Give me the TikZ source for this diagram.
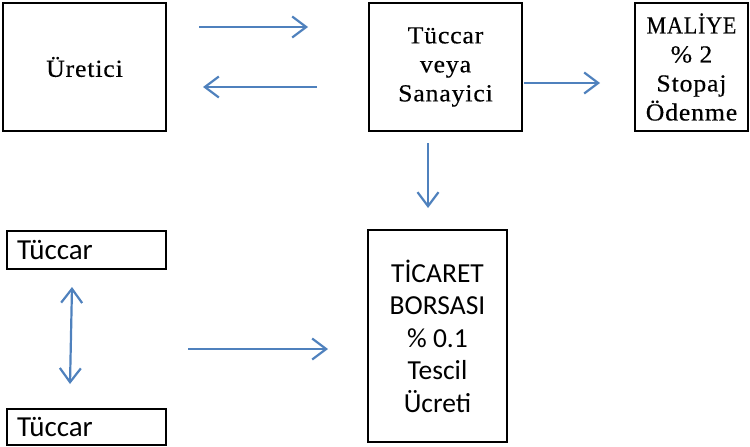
\documentclass[tikz,border=0pt]{standalone}
\usepackage{fontspec}
\usepackage{graphicx}
\setmainfont{Liberation Serif}[FakeStretch=1.05,LetterSpace=3.5,FakeBold=0.4]
\newfontfamily\calib{Carlito}
\usetikzlibrary{arrows.meta}
\definecolor{arrowblue}{HTML}{4F81BD}
\begin{document}
\begin{tikzpicture}[x=1pt,y=-1pt,
  box/.style={draw=black, line width=2.5pt, align=center, inner sep=0pt,
    font=\fontsize{24.5}{29}\selectfont},
  cbox/.style={draw=black, line width=2.5pt, align=center, inner sep=0pt,
    font=\calib\fontsize{27.5}{32.5}\selectfont},
  smallbox/.style={draw=black, line width=2pt, align=left, inner xsep=10pt,
    inner ysep=0pt, text width=139pt, minimum width=159pt,
    font=\calib\fontsize{29}{32}\selectfont},
  tip/.tip={Straight Barb[length=14pt,width=21pt]},
  flow/.style={draw=arrowblue, line width=2.2pt, -tip},
  flow2/.style={draw=arrowblue, line width=2.2pt, tip-tip}]
\useasboundingbox (0,0) rectangle (750,447);
\node[box, minimum width=163pt, minimum height=128pt] (uret) at (84.5,67) {Üretici};
\node[box, minimum width=153pt, minimum height=128pt] (tuc) at (445.5,67) {Tüccar\\veya\\Sanayici};
\node[box, minimum width=113pt, minimum height=128pt] (mal) at (691.5,67) {\scalebox{0.86}[1]{MALİYE}\\\% 2\\Stopaj\\Ödenme};
\node[cbox, minimum width=139pt, minimum height=212pt] (bor) at (437.5,336) {TİCARET\\BORSASI\\\% 0.1\\Tescil\\Ücreti};
\node[smallbox, minimum height=38pt] (t1) at (86.5,250) {Tüccar};
\node[smallbox, minimum height=36pt] (t2) at (86.5,427) {Tüccar};
\coordinate (a1s) at (199,27); \coordinate (a1e) at (308,27);
\coordinate (a2s) at (317,87); \coordinate (a2e) at (203,87);
\coordinate (a3s) at (524,83); \coordinate (a3e) at (600,83);
\coordinate (a4s) at (428,143); \coordinate (a4e) at (428,208);
\coordinate (a5s) at (72,287); \coordinate (a5e) at (70,384);
\coordinate (a6s) at (188,349); \coordinate (a6e) at (328,349);
\draw[flow] (a1s) -- (a1e);
\draw[flow] (a2s) -- (a2e);
\draw[flow] (a3s) -- (a3e);
\draw[flow] (a4s) -- (a4e);
\draw[flow2] (a5s) -- (a5e);
\draw[flow] (a6s) -- (a6e);
\end{tikzpicture}
\end{document}
